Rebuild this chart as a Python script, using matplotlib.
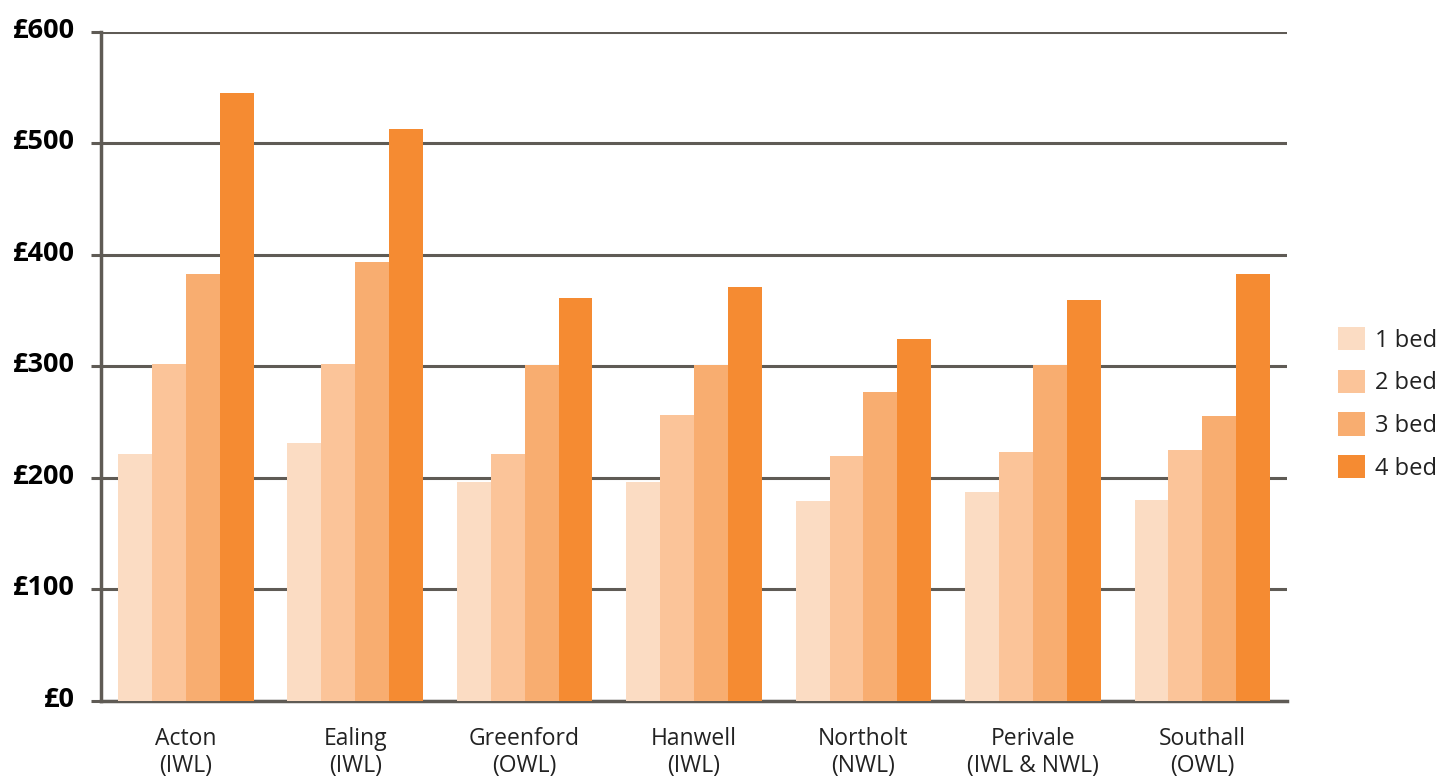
import numpy as np
import matplotlib
matplotlib.use("Agg")
import matplotlib.pyplot as plt
from matplotlib.transforms import ScaledTranslation

plt.rcParams['font.family'] = ['Open Sans', 'DejaVu Sans']

areas = ['Acton\n(IWL)', 'Ealing\n(IWL)', 'Greenford\n(OWL)', 'Hanwell\n(IWL)',
         'Northolt\n(NWL)', 'Perivale\n(IWL & NWL)', 'Southall\n(OWL)']
bed_1 = [221, 231, 196, 196, 179, 187, 180]
bed_2 = [302, 302, 221, 256, 220, 223, 225]
bed_3 = [383, 393, 301, 301, 277, 301, 255]
bed_4 = [545, 513, 361, 371, 324, 359, 383]
series_names = ['1 bed', '2 bed', '3 bed', '4 bed']
y_ticks = [0, 100, 200, 300, 400, 500, 600]

colours = ['#FBDCC3', '#FBC499', '#F8AD70', '#F58B32']
grid_col = '#5F5B55'

fig = plt.figure(figsize=(14.5, 7.82), dpi=100)
ax = fig.add_axes([0.0697, 0.1036, 0.8179, 0.8561])

x = np.arange(len(areas))
w = 0.2
for i, (vals, name) in enumerate(zip([bed_1, bed_2, bed_3, bed_4], series_names)):
    ax.bar(x + (i - 1.5) * w, vals, width=w, color=colours[i], label=name, zorder=3)

ax.set_xlim(-0.5, len(areas) - 0.5)
ax.set_ylim(0, 600)
ax.set_yticks(y_ticks)
ax.set_yticklabels(['\u00a3%d' % v for v in y_ticks], fontsize=19.5, fontweight='bold')
ax.yaxis.grid(True, color=grid_col, linewidth=2.2, zorder=0)
ax.tick_params(axis='y', length=7, width=2.2, color=grid_col, pad=12)
# labels sit a little above their gridline in the original
lift = ScaledTranslation(0, 4 / 100, fig.dpi_scale_trans)
for lab in ax.get_yticklabels():
    lab.set_transform(lab.get_transform() + lift)
ax.set_xticks(x)
ax.set_xticklabels(areas, fontsize=16.5, color='#222222', linespacing=1.15)
ax.tick_params(axis='x', length=0, pad=19)

for s in ['top', 'right']:
    ax.spines[s].set_visible(False)
for s in ['left', 'bottom']:
    ax.spines[s].set_color(grid_col)
    ax.spines[s].set_linewidth(2.5)

ax.legend(loc='center left', bbox_to_anchor=(1.025, 0.444), frameon=False,
          fontsize=17, handlelength=1.15, handleheight=1.15, labelspacing=0.72,
          handletextpad=0.4, labelcolor='#222222')

fig.savefig('out.png', dpi=100)
